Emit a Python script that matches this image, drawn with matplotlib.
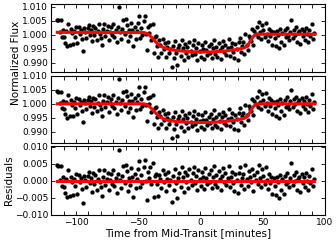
import numpy as np
import matplotlib
matplotlib.use("Agg")
import matplotlib.pyplot as plt
from matplotlib.ticker import MultipleLocator, FormatStrFormatter

# observation cadence (minutes from mid-transit)
t_start = -115.0
t_step = 0.9

# residuals (units of 1e-3)
resid_milli = [
    4.5, 4.3, 0.2, 4.4, -1.6, 1.0, -1.8, -3.7, 0.6, -4.9,
    3.1, -4.5, 1.2, -0.3, -4.2, 0.5, -1.5, 2.0, -3.8, 1.8,
    -0.5, 0.8, -2.5, -6.5, 1.4, 0.3, -2.0, 1.5, 2.6, -0.8,
    0.9, -3.2, 2.2, -1.0, 1.7, -2.6, 0.4, 3.0, -0.4, -1.9,
    -4.5, 1.1, 3.2, -1.3, 0.6, 2.4, -2.8, 0.2, 1.9, -0.9,
    3.0, -1.6, 0.8, -3.5, 2.1, 9.0, 0.3, -2.2, 1.4, 4.4,
    -0.6, 4.7, 2.8, -3.0, 0.9, -1.4, 3.6, 1.0, -4.7, 2.0,
    -2.3, 0.5, 3.3, 5.9, -1.8, 1.6, -0.7, 4.1, 6.1, -0.2,
    -5.7, 2.5, 0.9, 3.9, -1.1, 5.2, -4.7, 1.3, 2.1, -0.9,
    -4.5, 1.8, 0.4, -2.2, 3.0, -0.5, 1.9, -3.1, 0.6, 2.7,
    -1.3, 0.2, -6.2, 1.5, -2.7, 3.3, -0.8, -5.0, 0.9, 2.2,
    -1.9, 4.0, 1.0, -3.3, 2.5, -0.4, 1.6, -2.1, 3.5, 0.1,
    -1.2, 2.3, 4.1, -0.6, 1.3, -2.8, 3.2, 0.5, -1.6, 2.6,
    1.0, -2.5, 3.7, 0.7, -1.1, 2.0, -0.3, 3.0, -2.2, 1.2,
    4.2, -0.9, 1.8, -1.8, 2.9, 0.4, -2.6, 1.5, 3.6, -0.5,
    2.2, -1.4, 0.8, 4.3, -2.0, 1.1, 2.7, -0.7, -3.0, 1.9,
    0.3, -3.7, 2.4, 3.9, -1.2, 0.9, 2.1, -2.4, 4.6, 0.6,
    -1.7, 2.8, 1.2, -0.4, 3.3, -2.9, 1.7, 0.1, 2.5, -1.0,
    4.5, 0.8, -1.8, 3.4, 1.5, -0.9, 3.9, 0.2, -2.4, 2.0,
    -0.6, 1.2, -3.8, 0.7, -1.5, -4.2, 1.0, -0.3, -5.0, 1.8,
    -2.7, 0.4, -3.9, 1.5, -1.0, 2.3, -0.5, -2.0, 0.9, 5.1,
    -1.3, 1.7, -0.2, 2.6, -2.6, 0.5, 1.2, -3.4, 2.0, -0.8,
    1.1, -1.9, 2.3, 0.0, -2.8, 1.4, -0.6, 3.5, -1.7, 0.6,
]

# transit model
model_t = [-115, -50, -45, -42, -39, -36, -33, -30, -26, -20, -10, 0, 10,
           20, 30, 35, 37, 39, 41, 43, 45, 50, 92]
model_raw = [1.0009, 1.0008, 1.0008, 1.0002, 0.9990, 0.9975, 0.9962, 0.9955,
             0.9949, 0.9944, 0.9940, 0.9938, 0.9939, 0.9942, 0.9948, 0.9953,
             0.9958, 0.9970, 0.9985, 0.9997, 1.0002, 1.0002, 1.0002]
model_detr = [1.0000, 1.0000, 1.0000, 0.9994, 0.9982, 0.9967, 0.9954, 0.9947,
              0.9941, 0.9937, 0.9934, 0.9933, 0.9934, 0.9937, 0.9943, 0.9948,
              0.9953, 0.9965, 0.9980, 0.9993, 0.9999, 1.0000, 1.0000]

resid = np.array(resid_milli) * 1e-3
t = t_start + t_step * np.arange(len(resid))
flux_raw = np.interp(t, model_t, model_raw) + resid
flux_detr = np.interp(t, model_t, model_detr) + resid

plt.rcParams['font.family'] = 'DejaVu Sans'
plt.rcParams['xtick.direction'] = 'in'
plt.rcParams['ytick.direction'] = 'in'

fig = plt.figure(figsize=(3.36, 2.44), dpi=100)
left, width = 0.152, 0.815
ax1 = fig.add_axes([left, 0.704, width, 0.278])
ax2 = fig.add_axes([left, 0.414, width, 0.275])
ax3 = fig.add_axes([left, 0.119, width, 0.281])

ax1.plot(t, flux_raw, 'o', color='black', ms=3.1, mec='none')
ax1.plot(model_t, model_raw, '-', color='red', lw=2.2)
ax2.plot(t, flux_detr, 'o', color='black', ms=3.1, mec='none')
ax2.plot(model_t, model_detr, '-', color='red', lw=2.2)
ax3.plot(t, resid, 'o', color='black', ms=3.1, mec='none')
ax3.plot([t[0], t[-1]], [0, 0], '-', color='red', lw=2.2)

ax1.set_ylim(0.9866, 1.0109)
ax2.set_ylim(0.9860, 1.0100)
ax3.set_ylim(-0.0101, 0.0101)

for ax in (ax1, ax2, ax3):
    ax.set_xlim(-120, 100)
    ax.xaxis.set_major_locator(MultipleLocator(50))
    ax.xaxis.set_minor_locator(MultipleLocator(10))
    ax.yaxis.set_major_locator(MultipleLocator(0.005))
    ax.yaxis.set_major_formatter(FormatStrFormatter('%.3f'))
    ax.tick_params(which='both', top=True, right=True, length=3, width=0.6,
                   labelsize=6.5, pad=2)
    for s in ax.spines.values():
        s.set_linewidth(0.8)
ax1.tick_params(labelbottom=False)
ax2.tick_params(labelbottom=False)
ax3.yaxis.set_major_formatter(plt.FuncFormatter(
    lambda v, p: ('%.3f' % v).replace('-', '\u2212')))

fig.text(0.048, 0.742, 'Normalized Flux', rotation=90, ha='center',
         va='center', fontsize=7.5)
fig.text(0.028, 0.262, 'Residuals', rotation=90, ha='center', va='center',
         fontsize=7.5)
ax3.set_xlabel('Time from Mid-Transit [minutes]', fontsize=7.5, labelpad=1)

fig.savefig('out.png', dpi=100)
